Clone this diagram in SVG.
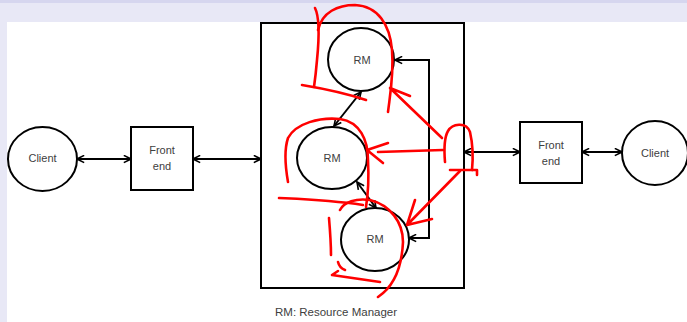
<svg xmlns="http://www.w3.org/2000/svg" width="687" height="322" viewBox="0 0 687 322">
  <style>
    .shape { fill: #ffffff; stroke: #000000; stroke-width: 2; }
    .lbl { font-family: "Liberation Sans", Arial, sans-serif; font-size: 11px; fill: #404040; text-anchor: middle; dominant-baseline: central; }
    .conn { fill: none; stroke: #000000; stroke-width: 2; }
    .ink { fill: none; stroke: #ff0000; stroke-width: 2.6; stroke-linecap: round; stroke-linejoin: round; }
  </style>
  <defs>
    <marker id="head" viewBox="0 0 10 10" refX="9" refY="5" markerWidth="9" markerHeight="9" markerUnits="userSpaceOnUse" orient="auto-start-reverse">
      <path d="M1,1 L9,5 L1,9" fill="none" stroke="#000000" stroke-width="1.8"/>
    </marker>
  </defs>

  <!-- page background -->
  <rect x="0" y="0" width="687" height="322" fill="#e8e8f6"/>
  <rect x="0" y="0" width="687" height="3" fill="#d6d6ef"/>
  <rect x="7" y="22" width="680" height="300" fill="#ffffff"/>

  <!-- left client and front end -->
  <g id="client-left">
    <ellipse class="shape" cx="42.5" cy="159" rx="34.5" ry="32"/>
    <text class="lbl" x="42.5" y="158">Client</text>
  </g>
  <g id="frontend-left">
    <rect class="shape" x="131" y="127" width="62" height="63"/>
    <text class="lbl" x="162" y="150">Front</text>
    <text class="lbl" x="162" y="166">end</text>
  </g>

  <!-- resource manager container -->
  <g id="rm-container">
    <rect class="shape" x="261" y="23" width="203" height="265"/>
  </g>
  <g id="rm-top">
    <ellipse class="shape" cx="361" cy="59.5" rx="33" ry="31.5"/>
    <text class="lbl" x="362" y="60">RM</text>
  </g>
  <g id="rm-middle">
    <ellipse class="shape" cx="332" cy="158" rx="35" ry="31"/>
    <text class="lbl" x="332" y="158">RM</text>
  </g>
  <g id="rm-bottom">
    <ellipse class="shape" cx="375" cy="239.5" rx="34" ry="31.5"/>
    <text class="lbl" x="375" y="239">RM</text>
  </g>

  <!-- right front end and client -->
  <g id="frontend-right">
    <rect class="shape" x="520" y="122" width="62" height="61"/>
    <text class="lbl" x="551" y="145">Front</text>
    <text class="lbl" x="551" y="161">end</text>
  </g>
  <g id="client-right">
    <ellipse class="shape" cx="655" cy="153" rx="33" ry="32"/>
    <text class="lbl" x="655" y="153">Client</text>
  </g>

  <!-- connectors -->
  <g id="connectors">
    <line class="conn" x1="77" y1="159" x2="131" y2="159" marker-start="url(#head)" marker-end="url(#head)"/>
    <line class="conn" x1="193" y1="159" x2="261" y2="159" marker-start="url(#head)" marker-end="url(#head)"/>
    <line class="conn" x1="361" y1="92" x2="334" y2="126" marker-start="url(#head)" marker-end="url(#head)"/>
    <line class="conn" x1="357" y1="182" x2="376" y2="208" marker-start="url(#head)" marker-end="url(#head)"/>
    <path class="conn" d="M395,60 H429 V238 H409" marker-start="url(#head)" marker-end="url(#head)"/>
    <line class="conn" x1="464" y1="152" x2="520" y2="152" marker-start="url(#head)" marker-end="url(#head)"/>
    <line class="conn" x1="582" y1="152" x2="622" y2="152" marker-start="url(#head)" marker-end="url(#head)"/>
  </g>

  <text x="275" y="316" font-family="'Liberation Sans', Arial, sans-serif" font-size="11.5" fill="#404040">RM: Resource Manager</text>

  <!-- hand-drawn red markup -->
  <g id="markup">
    <!-- top RM loop -->
    <path class="ink" d="M315,8 C320,18 319,40 317,60 C316,72 315,80 314,87"/>
    <path class="ink" d="M318,30 C322,12 338,5 355,5 C378,6 390,25 392,50 C394,75 390,95 388,112"/>
    <path class="ink" d="M302,85 C320,88 345,93 366,100"/>
    <path class="ink" d="M442,138 L390,88 M390,88 L410,96"/>
    <!-- middle RM loop -->
    <path class="ink" d="M288,182 C285,165 284,150 288,138 C296,123 320,117 340,119 C360,122 368,140 368,160 C369,180 368,195 366,207"/>
    <path class="ink" d="M443,150 L378,152 M388,143 L367,150 L383,163"/>
    <!-- cap mark at the right edge -->
    <path class="ink" d="M445,162 C444,150 444,138 448,131 C452,124 466,121 470,132 C473,145 473,160 472,170"/>
    <path class="ink" d="M450,170 L477,170 L477,175"/>
    <!-- arrow into bottom RM -->
    <path class="ink" d="M460,171 L407,225 M415,200 L407,225 L432,219"/>
    <!-- bottom RM loop -->
    <path class="ink" d="M279,198 C300,199 330,200 363,205"/>
    <path class="ink" d="M340,210 C344,202 356,198 370,200 C390,205 403,222 403,242 C402,264 396,285 378,297"/>
    <path class="ink" d="M329,218 C330,230 331,243 331,255"/>
    <path class="ink" d="M338,262 C339,266 342,269 345,270"/>
    <path class="ink" d="M380,282 L332,275 M332,275 L338,271"/>
  </g>
</svg>
